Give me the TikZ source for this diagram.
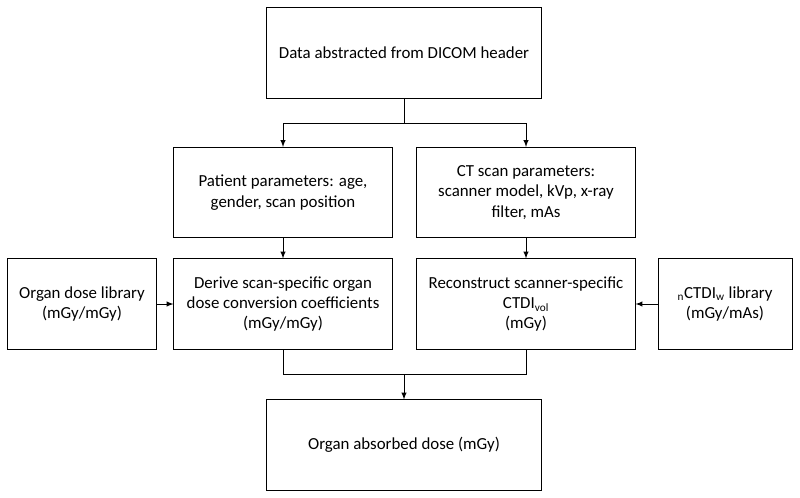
\documentclass[tikz,border=0pt]{standalone}
\usepackage{fontspec}
\setmainfont{Carlito}
\usetikzlibrary{arrows}

\begin{document}
\begin{tikzpicture}[x=0.025cm, y=-0.025cm]
    \tikzset{box/.style = {shape=rectangle, draw, line width=0.7pt, align=center, inner sep=2pt, minimum height=2.25cm, font=\fontsize{12}{14.5}\selectfont}}
    \tikzset{edge/.style = {draw, line width=0.7pt, >=latex}}
    \useasboundingbox (0,0) rectangle (800,498);

    % boxes
    \node[box, minimum width=6.875cm] (h) at (404,53) {Data abstracted from DICOM header};
    \node[box, minimum width=5.45cm] (p) at (283,192.5) {Patient parameters: age,\\gender, scan position};
    \node[box, minimum width=5.45cm] (c) at (526,192.5) {CT scan parameters:\\scanner model, kVp, x-ray\\filter, mAs};
    \node[box, minimum width=5.45cm] (d) at (283,304) {Derive scan-specific organ\\dose conversion coefficients\\(mGy/mGy)};
    \node[box, minimum width=5.45cm] (r) at (526,304) {Reconstruct scanner-specific\\CTDI\textsubscript{vol}\\(mGy)};
    \node[box, minimum width=3.7cm] (l) at (82,304) {Organ dose library\\(mGy/mGy)};
    \node[box, minimum width=3.35cm] (n) at (725,304) {\textsubscript{n}CTDI\textsubscript{w} library\\(mGy/mAs)};
    \node[box, minimum width=6.875cm] (o) at (404,445) {Organ absorbed dose (mGy)};

    % joints
    \coordinate (s) at (404,123);
    \coordinate (m) at (404,374);

    % edges
    \draw[edge] (h) -- (s);
    \draw[edge,->] (s) -| (p);
    \draw[edge,->] (s) -| (c);
    \draw[edge,->] (p) -- (d);
    \draw[edge,->] (c) -- (r);
    \draw[edge,->] (l) -- (d);
    \draw[edge,->] (n) -- (r);
    \draw[edge] (d) |- (m);
    \draw[edge] (r) |- (m);
    \draw[edge,->] (m) -- (o);
\end{tikzpicture}
\end{document}
